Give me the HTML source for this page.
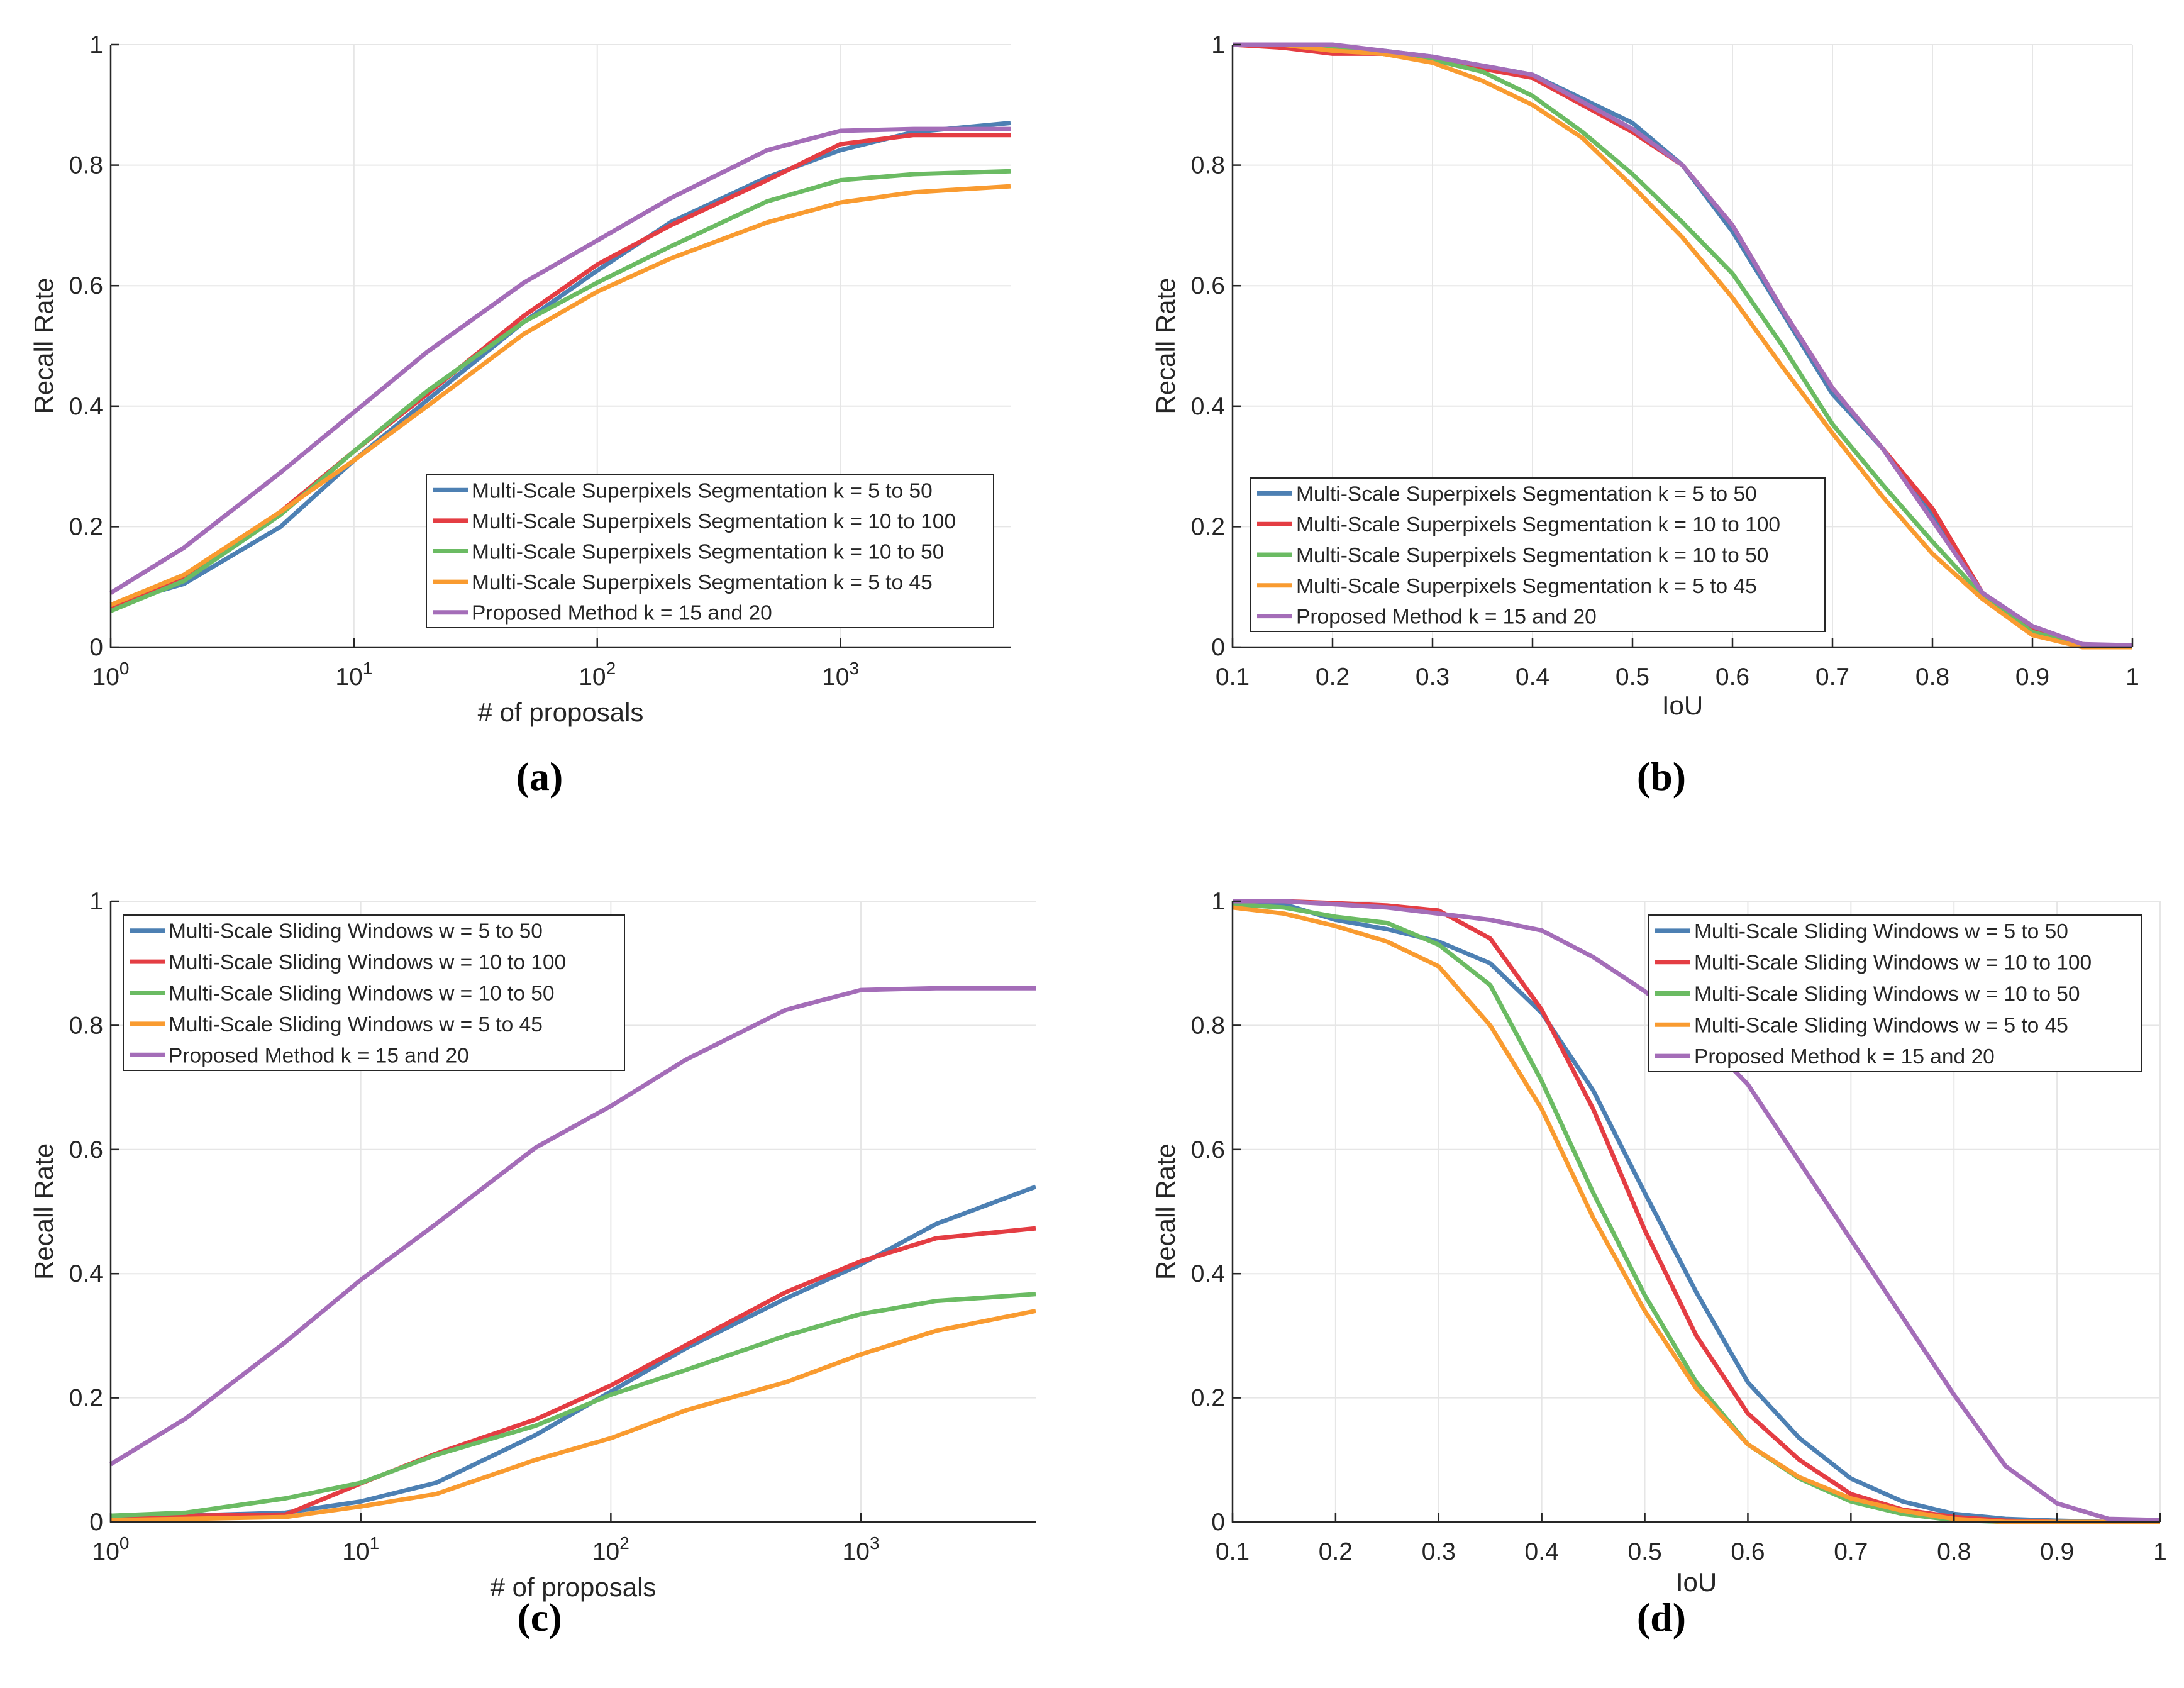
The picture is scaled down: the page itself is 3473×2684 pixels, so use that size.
<!DOCTYPE html>
<html><head><meta charset="utf-8"><style>
html,body{margin:0;padding:0;background:#fff}
svg{display:block}
text{font-family:"Liberation Sans",sans-serif;fill:#262626}
</style></head><body>
<svg id="fig" width="3473" height="2684" viewBox="0 0 3473 2684" xmlns="http://www.w3.org/2000/svg"></svg>
<script>
const logX = [1,2,5,10,20,50,100,200,500,1000,2000,5000];
const iouX = [0.1,0.15,0.2,0.25,0.3,0.35,0.4,0.45,0.5,0.55,0.6,0.65,0.7,0.75,0.8,0.85,0.9,0.95,1.0];
const yTicks = [0,0.2,0.4,0.6,0.8,1];
const yTickLabels = ["0","0.2","0.4","0.6","0.8","1"];
const logTicks = [1,10,100,1000];
const logTickExp = ["0","1","2","3"];
const iouTicks = [0.1,0.2,0.3,0.4,0.5,0.6,0.7,0.8,0.9,1];
const iouTickLabels = ["0.1","0.2","0.3","0.4","0.5","0.6","0.7","0.8","0.9","1"];
const colors = ["#4d80b3","#e43d43","#6bbb63","#f99b30","#a46db8"];

const aBlue=[.07,.105,.2,.31,.41,.54,.625,.705,.78,.825,.855,.87];
const aRed=[.065,.115,.225,.325,.42,.55,.635,.70,.775,.835,.85,.85];
const aGreen=[.06,.11,.22,.325,.425,.54,.605,.665,.74,.775,.785,.79];
const aOrange=[.07,.12,.225,.31,.40,.52,.59,.645,.705,.738,.755,.765];
const aPurple=[.09,.165,.29,.39,.49,.605,.675,.745,.825,.857,.86,.86];

const bBlue=[1,1,.995,.99,.98,.965,.95,.91,.87,.80,.69,.555,.42,.33,.22,.09,.03,.005,0];
const bRed=[1,.995,.985,.985,.975,.96,.945,.90,.855,.80,.70,.56,.43,.33,.23,.09,.03,.005,0];
const bGreen=[1,1,.995,.985,.975,.955,.915,.855,.785,.705,.62,.50,.37,.27,.175,.085,.025,.003,0];
const bOrange=[1,1,.99,.985,.97,.94,.90,.845,.765,.68,.58,.465,.355,.25,.155,.08,.02,0,0];
const bPurple=[1,1,1,.99,.98,.965,.95,.905,.86,.80,.70,.56,.43,.33,.21,.09,.035,.005,.003];

const cBlue=[.008,.01,.015,.033,.063,.14,.21,.28,.36,.415,.48,.54];
const cRed=[.008,.01,.012,.062,.11,.165,.22,.285,.37,.42,.457,.473];
const cGreen=[.01,.015,.038,.063,.108,.155,.205,.245,.30,.335,.356,.367];
const cOrange=[.003,.005,.008,.025,.045,.10,.135,.18,.225,.27,.308,.34];
const cPurple=[.093,.167,.29,.39,.48,.603,.67,.745,.825,.857,.86,.86];

const dBlue=[.995,.995,.97,.955,.935,.90,.82,.695,.53,.37,.225,.135,.07,.033,.013,.005,.002,0,0];
const dRed=[1,1,.997,.993,.985,.94,.825,.665,.47,.30,.175,.10,.045,.02,.008,.002,0,0,0];
const dGreen=[.995,.99,.975,.965,.93,.865,.71,.53,.365,.225,.125,.07,.033,.013,.003,0,0,0,0];
const dOrange=[.99,.98,.96,.935,.895,.80,.665,.49,.34,.215,.125,.072,.038,.018,.005,0,0,0,0];
const dPurple=[1,1,.995,.99,.98,.97,.953,.91,.855,.79,.705,.58,.455,.33,.205,.09,.03,.005,.003];

const legendSP=["Multi-Scale Superpixels Segmentation k = 5 to 50","Multi-Scale Superpixels Segmentation k = 10 to 100","Multi-Scale Superpixels Segmentation k = 10 to 50","Multi-Scale Superpixels Segmentation k = 5 to 45","Proposed Method k = 15 and 20"];
const legendSW=["Multi-Scale Sliding Windows w = 5 to 50","Multi-Scale Sliding Windows  w = 10 to 100","Multi-Scale Sliding Windows  w = 10 to 50","Multi-Scale Sliding Windows w = 5 to 45","Proposed Method k = 15 and 20"];
const legendSW2=["Multi-Scale Sliding Windows w = 5 to 50","Multi-Scale Sliding Windows w = 10 to 100","Multi-Scale Sliding Windows w = 10 to 50","Multi-Scale Sliding Windows w = 5 to 45","Proposed Method k = 15 and 20"];

const NS="http://www.w3.org/2000/svg";
const svg=document.getElementById('fig');
function mk(tag,attrs,parent){const e=document.createElementNS(NS,tag);for(const k in attrs)e.setAttribute(k,attrs[k]);(parent||svg).appendChild(e);return e;}

function panel(id,box,isLog,xmax,series,legendText,leg,xlabel,xlabY,cap,capX,capY){
  const g=mk('g',{});
  
  
  const {L,R,T,B}=box;
  const sx=isLog?(v=>L+(R-L)*Math.log10(v)/Math.log10(xmax)):(v=>L+(R-L)*(v-0.1)/0.9);
  const sy=v=>B-(B-T)*v;
  const xt=isLog?logTicks:iouTicks;
  xt.forEach(t=>{const l=mk('line',{x1:sx(t),x2:sx(t),y1:T,y2:B,stroke:'#e6e6e6','stroke-width':2},g);});
  yTicks.forEach(t=>{const l=mk('line',{x1:L,x2:R,y1:sy(t),y2:sy(t),stroke:'#e6e6e6','stroke-width':2},g);});
  const xs=isLog?logX:iouX;
  series.forEach((s,i)=>{
    const pts=s.map((v,j)=>sx(xs[j]).toFixed(1)+','+sy(v).toFixed(1)).join(' ');
    const p=mk('polyline',{points:pts,fill:'none',stroke:colors[i],'stroke-width':7,'stroke-linejoin':'round'},g);
    
    
  });
  const ax=mk('path',{d:`M${L},${T} L${L},${B} L${R},${B}`,fill:'none',stroke:'#262626','stroke-width':2.5},g);
  
  
  yTicks.forEach((t,i)=>{
    mk('line',{x1:L,x2:L+14,y1:sy(t),y2:sy(t),stroke:'#262626','stroke-width':2.5},g);
    const tx=mk('text',{x:L-12,y:sy(t)+13,'text-anchor':'end','font-size':39},g);
    tx.textContent=yTickLabels[i];
    
    
  });
  xt.forEach((t,i)=>{
    mk('line',{x1:sx(t),x2:sx(t),y1:B,y2:B-14,stroke:'#262626','stroke-width':2.5},g);
    const tx=mk('text',{x:sx(t),y:B+60,'text-anchor':'middle','font-size':39},g);
    if(isLog){tx.textContent='10';const ts=mk('tspan',{dy:-17,'font-size':28},tx);ts.textContent=logTickExp[i];}
    else tx.textContent=iouTickLabels[i];
    
    
  });
  const xl=mk('text',{x:(L+R)/2,y:xlabY,'text-anchor':'middle','font-size':42},g);
  xl.textContent=xlabel;
  
  
  const yx=L-92, yy=(T+B)/2;
  const yl=mk('text',{x:yx,y:yy,'text-anchor':'middle','font-size':42,transform:`rotate(-90 ${yx} ${yy})`},g);
  yl.textContent='Recall Rate';
  
  
  const lg=mk('g',{},g);
  
  
  mk('rect',{x:leg.x,y:leg.y,width:leg.w,height:leg.h,fill:'#fff',stroke:'#262626','stroke-width':2},lg);
  const step=leg.h/5;
  legendText.forEach((t,i)=>{
    const cy=leg.y+step*(i+0.5);
    mk('line',{x1:leg.x+10,x2:leg.x+66,y1:cy,y2:cy,stroke:colors[i],'stroke-width':7},lg);
    const tx=mk('text',{x:leg.x+72,y:cy+12,'font-size':33.5},lg);
    tx.textContent=t;
    
    
  });
  const c=mk('text',{x:capX,y:capY,'text-anchor':'middle','font-size':64,'font-weight':'bold',style:'font-family:"Liberation Serif",serif;fill:#000'},g);
  c.textContent=cap;
  
  
}

panel('a',{L:176,R:1607,T:71,B:1029},true,5000,[aBlue,aRed,aGreen,aOrange,aPurple],legendSP,{x:678,y:755,w:902,h:243},'# of proposals',1147,'(a)',858,1256);
panel('b',{L:1960,R:3391,T:71,B:1029},false,1,[bBlue,bRed,bGreen,bOrange,bPurple],legendSP,{x:1989,y:760,w:913,h:244},'IoU',1136,'(b)',2642,1256);
panel('c',{L:176,R:1647,T:1433,B:2420},true,5000,[cBlue,cRed,cGreen,cOrange,cPurple],legendSW,{x:196,y:1455,w:797,h:247},'# of proposals',2538,'(c)',858,2593);
panel('d',{L:1960,R:3435,T:1433,B:2420},false,1,[dBlue,dRed,dGreen,dOrange,dPurple],legendSW2,{x:2622,y:1455,w:784,h:249},'IoU',2530,'(d)',2642,2593);
</script>
</body></html>
